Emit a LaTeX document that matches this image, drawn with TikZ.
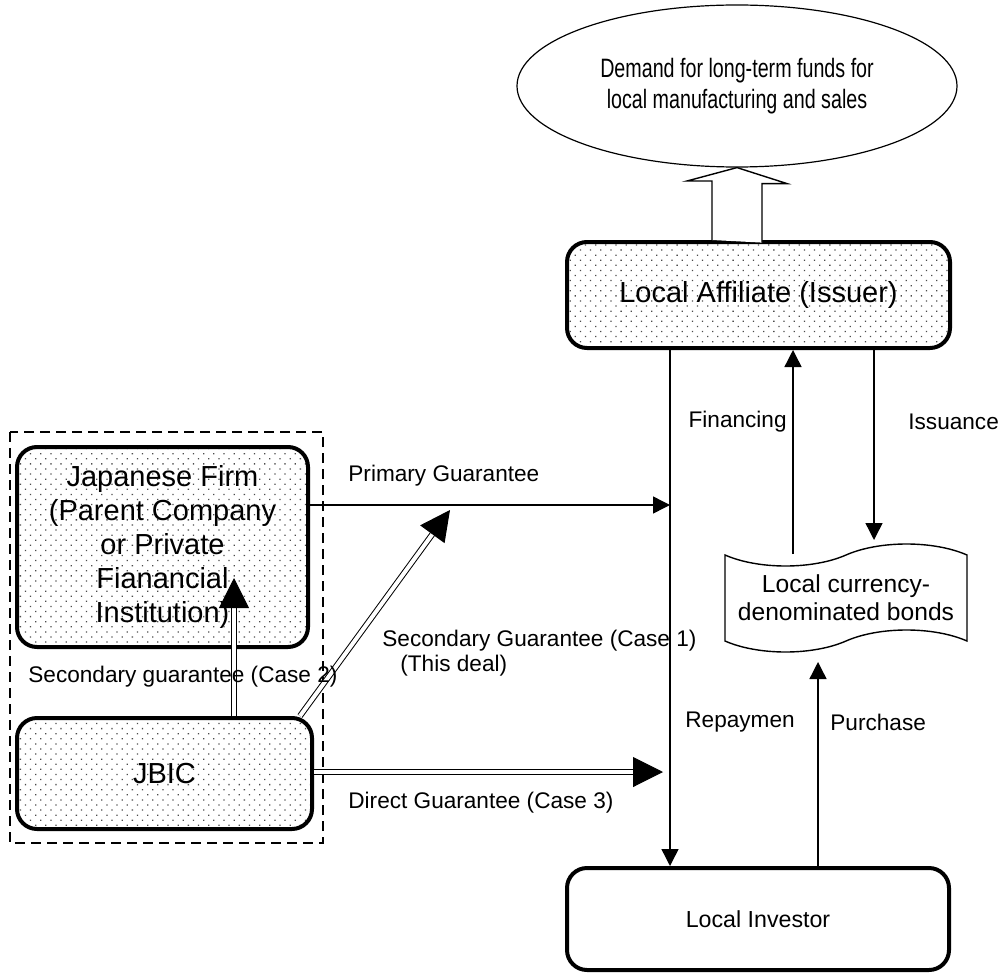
\documentclass[tikz,border=0pt]{standalone}
\usepackage{fontspec}
\setmainfont{Liberation Sans}
\newfontfamily\narrowfont{Liberation Sans}[FakeStretch=0.74]
\usetikzlibrary{arrows.meta,patterns.meta,shapes.geometric,shapes.symbols}

\begin{document}
\begin{tikzpicture}[x=0.5pt,y=-0.5pt,
    box/.style={draw,line width=2pt,rounded corners=10pt,align=center,font=\fontsize{14.5}{17}\selectfont},
    dotbox/.style={box,pattern={Dots[distance=3.6pt,angle=45,radius=0.45pt]},pattern color=black!70},
    lbl/.style={inner sep=0pt,font=\fontsize{11.3}{12.5}\selectfont},
    thinarrow/.style={line width=0.7pt,-{Triangle[length=8.5pt,width=8.5pt]}},
    dblarrow/.style={double,double distance=2pt,line width=0.5pt,-{Triangle[length=15pt,width=15pt]}}]
    \useasboundingbox (0,0) rectangle (1000,973);
    \node [draw,ellipse,line width=0.6pt,minimum width=220pt,minimum height=81pt,align=center,
        font=\narrowfont\fontsize{13.3}{15.5}\selectfont] (demand) at (737,86)
        {Demand for long-term funds for\\local manufacturing and sales};
    \node [dotbox,minimum width=191.5pt,minimum height=53pt] (affiliate) at (758.5,295) {Local Affiliate (Issuer)};
    \node [box,minimum width=191pt,minimum height=51pt,font=\fontsize{11.6}{14}\selectfont] (investor) at (758,919) {Local Investor};
    \node [dotbox,minimum width=145.5pt,minimum height=100pt] (firm) at (162.5,547)
        {Japanese Firm\\(Parent Company\\or Private\\Fianancial\\Institution)};
    \node [dotbox,minimum width=147.5pt,minimum height=55.5pt] (jbic) at (164.5,773.5) {JBIC};
    \node [draw,tape,line width=0.7pt,tape bend height=11pt,minimum width=121pt,minimum height=54pt,align=center,
        font=\fontsize{12.3}{14}\selectfont] (bonds) at (846,598) {Local currency-\\denominated bonds};
    \draw [line width=0.6pt,dash pattern=on 5pt off 3pt] (10,432) rectangle (323,843);
    % big arrow up to the demand
    \coordinate (up) at (affiliate.north -| demand.south);
    \draw [line width=0.7pt,fill=white] (up) ++(-25,0) -- ++(0,-59) -- ++(-25,0) -- (demand.south)
        -- ++(50,16) -- ++(-25,0) -- ++(0,59);
    \coordinate (pg) at (670,505);
    \coordinate (fin) at (793,554);
    \coordinate (iss) at (874,540);
    \coordinate (pur) at (818,662);
    \draw [thinarrow] (firm.east |- pg) -- (pg);
    \draw [thinarrow] (affiliate.south -| pg) -- (investor.north -| pg);
    \draw [thinarrow] (fin) -- (fin |- affiliate.south);
    \draw [thinarrow] (iss |- affiliate.south) -- (iss);
    \draw [thinarrow] (pur |- investor.north) -- (pur);
    \coordinate (c1) at (450,510);
    \coordinate (c2) at (234,578);
    \coordinate (c3) at (663,772);
    \draw [dblarrow] (c2 |- jbic.north) -- (c2);
    \draw [dblarrow] (jbic.23) -- (c1);
    \draw [dblarrow] (jbic.east |- c3) -- (c3);
    \node [lbl,anchor=west] (lprim) at (348,476) {Primary Guarantee};
    \node [lbl,anchor=west,align=left] (lcase1) at (382,653) {Secondary Guarantee (Case 1)\\\hspace{9pt}(This deal)};
    \node [lbl,anchor=west] (lcase2) at (28,677) {Secondary guarantee (Case 2)};
    \node [lbl,anchor=west] (lcase3) at (348,803) {Direct Guarantee (Case 3)};
    \node [lbl,anchor=east] (lfin) at (787,422) {Financing};
    \node [lbl,anchor=west] (liss) at (908,422) {Issuance};
    \node [lbl,anchor=west] (lrep) at (685,722) {Repaymen};
    \node [lbl,anchor=west] (lpur) at (830,722) {Purchase};
\end{tikzpicture}
\end{document}
